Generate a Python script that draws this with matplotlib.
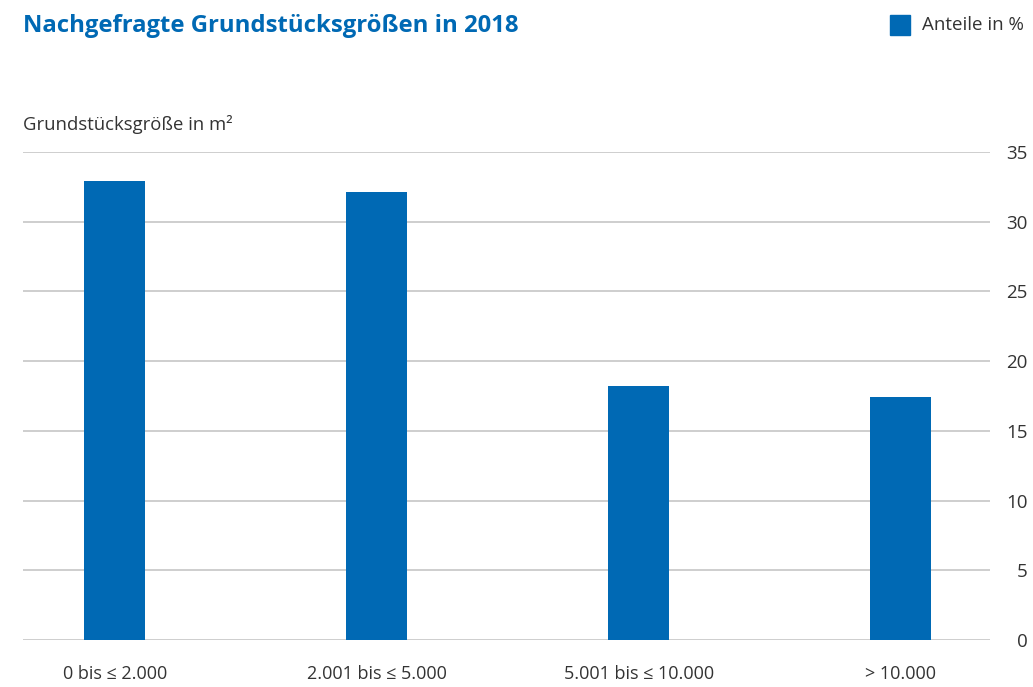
import matplotlib.pyplot as plt
import numpy as np

plt.rcParams['font.family'] = ['Open Sans', 'DejaVu Sans']

# --- data ---
categories = ["0 bis ≤ 2.000", "2.001 bis ≤ 5.000", "5.001 bis ≤ 10.000", "> 10.000"]
shares = [32.9, 32.1, 18.2, 17.4]
y_ticks = [0, 5, 10, 15, 20, 25, 30, 35]

blue = "#0069b4"
grid_gray = "#c6c6c6"
text_gray = "#333333"

fig = plt.figure(figsize=(10.33, 6.87), dpi=100)
ax = fig.add_axes([23 / 1033, 47 / 687, 967 / 1033, 488 / 687])

x = np.arange(len(categories))
ax.bar(x, shares, width=0.233, color=blue, zorder=3)

ax.set_xlim(-0.351, 3.34)
ax.set_ylim(0, 35)
ax.set_yticks(y_ticks)
ax.yaxis.tick_right()
ax.tick_params(axis='y', length=0, pad=27, labelsize=13.5, labelcolor=text_gray)
for lbl in ax.get_yticklabels():
    lbl.set_horizontalalignment('right')
ax.set_xticks(x)
ax.set_xticklabels(categories)
ax.tick_params(axis='x', length=0, pad=18, labelsize=13, labelcolor=text_gray)
ax.grid(axis='y', color=grid_gray, linewidth=1.2, zorder=0)
for s in ax.spines.values():
    s.set_visible(False)

fig.text(23 / 1033, 1 - 26 / 687, "Nachgefragte Grundstücksgrößen in 2018",
         fontsize=17.2, fontweight='bold', color=blue, va='center', ha='left')
fig.text(23 / 1033, 1 - 125 / 687, "Grundstücksgröße in m²",
         fontsize=13.3, color=text_gray, va='center', ha='left')

# legend
fig.patches.append(plt.Rectangle((890 / 1033, 1 - 35 / 687), 20 / 1033, 20 / 687,
                                 transform=fig.transFigure, color=blue))
fig.text(922 / 1033, 1 - 25 / 687, "Anteile in %", fontsize=13.5,
         color=text_gray, va='center', ha='left')

fig.savefig("out.png", dpi=100)
